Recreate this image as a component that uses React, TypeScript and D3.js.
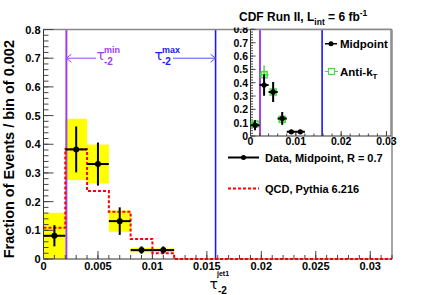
import React from 'react';
import * as d3 from 'd3';

// bins of 0.002 in tau_-2 (jet1)
const binEdges = [0, 0.002, 0.004, 0.006, 0.008, 0.01, 0.012];
const midpoint = [0.081, 0.382, 0.331, 0.132, 0.031, 0.031];
const midStat = [0.037, 0.08, 0.075, 0.048, 0.013, 0.013];
const midSyst = [0.08, 0.107, 0.068, 0.037, 0.008, 0.006];
const qcdPythia = [0.109, 0.383, 0.237, 0.165, 0.07, 0.02];
const antiKt = [0.09, 0.46, 0.33, 0.125];
const antiKtErr = [0.03, 0.07, 0.075, 0.045];

const tauMin = 0.0021;
const tauMax = 0.0158;

const xTicks = [0, 0.005, 0.01, 0.015, 0.02, 0.025, 0.03];
const xTickLabels = ['0', '0.005', '0.01', '0.015', '0.02', '0.025', '0.03'];
const yTicks = [0, 0.1, 0.2, 0.3, 0.4, 0.5, 0.6, 0.7, 0.8];
const yTickLabels = ['0', '0.1', '0.2', '0.3', '0.4', '0.5', '0.6', '0.7', '0.8'];
const insetXTicks = [0, 0.01, 0.02, 0.03];
const insetXLabels = ['0', '0.01', '0.02', '0.03'];

const FONT = 'Liberation Sans, Arial, sans-serif';
const PURPLE = '#a040ee';
const BLUE = '#1a1aee';
const GREEN = '#44dd44';

const App: React.FC = () => {
  const x = d3.scaleLinear().domain([0, 0.032]).range([43.5, 392]);
  const y = d3.scaleLinear().domain([0, 0.8]).range([259, 29.5]);
  const xi = d3.scaleLinear().domain([0, 0.031]).range([250.5, 391]);
  const yi = d3.scaleLinear().domain([0, 0.8]).range([136, 29.4]);

  const centers = binEdges.slice(0, -1).map((e, i) => (e + binEdges[i + 1]) / 2);

  const histPts: [number, number][] = qcdPythia.map((v, i) => [binEdges[i], v]);
  histPts.push([binEdges[binEdges.length - 1], 0]);
  histPts.push([0.032, 0]);
  const step = d3
    .line<[number, number]>()
    .x((d) => x(d[0]))
    .y((d) => y(d[1]))
    .curve(d3.curveStepAfter);

  const xMinor = d3.range(0, 0.0321, 0.001);
  const yMinor = d3.range(0, 0.801, 0.02);
  const xiMinor = d3.range(0, 0.0311, 0.002);

  return (
    <svg
      width={436}
      height={295}
      style={{ position: 'absolute', left: 0, top: 0, background: '#fff' }}
      fontFamily={FONT}
    >
      <defs>
        <clipPath id="insetClip">
          <rect x={200} y={27.5} width={236} height={130} />
        </clipPath>
      </defs>

      {/* systematic bands */}
      {midpoint.map((v, i) => (
        <rect
          key={'sy' + i}
          x={x(binEdges[i])}
          width={x(binEdges[i + 1]) - x(binEdges[i])}
          y={y(v + midSyst[i])}
          height={y(Math.max(0, v - midSyst[i])) - y(v + midSyst[i])}
          fill="#ffff00"
        />
      ))}

      {/* tau range lines */}
      <line x1={x(tauMin)} x2={x(tauMin)} y1={y(0.8)} y2={y(0)} stroke={PURPLE} strokeWidth={2} />
      <line x1={x(tauMax)} x2={x(tauMax)} y1={y(0.8)} y2={y(0)} stroke={BLUE} strokeWidth={1.6} />

      {/* frame */}
      <line x1={x(0)} x2={x(0.032)} y1={y(0.8)} y2={y(0.8)} stroke="#888" strokeWidth={1.5} />
      <line x1={x(0.032)} x2={x(0.032)} y1={y(0.8)} y2={y(0)} stroke="#888" strokeWidth={1.5} />
      <line x1={x(0)} x2={x(0)} y1={y(0.8)} y2={y(0)} stroke="#333" strokeWidth={1} />
      <line x1={x(0)} x2={x(0.032)} y1={y(0)} y2={y(0)} stroke="#333" strokeWidth={1} />

      {/* ticks */}
      {xMinor.map((t, i) => (
        <line key={'xm' + i} x1={x(t)} x2={x(t)} y1={y(0)} y2={y(0) - 4} stroke="#444" />
      ))}
      {xTicks.map((t, i) => (
        <line key={'xM' + i} x1={x(t)} x2={x(t)} y1={y(0)} y2={y(0) - 8} stroke="#444" />
      ))}
      {yMinor.map((t, i) => (
        <line key={'ym' + i} x1={x(0)} x2={x(0) + 5} y1={y(t)} y2={y(t)} stroke="#444" />
      ))}
      {yTicks.map((t, i) => (
        <line key={'yM' + i} x1={x(0)} x2={x(0) + 10} y1={y(t)} y2={y(t)} stroke="#444" />
      ))}
      {xTicks.map((t, i) => (
        <text key={'xl' + i} x={x(t)} y={270} fontSize={11} fontWeight="bold" textAnchor="middle">
          {xTickLabels[i]}
        </text>
      ))}
      {yTicks.map((t, i) => (
        <text key={'yl' + i} x={40.5} y={y(t) + 4} fontSize={11} fontWeight="bold" textAnchor="end">
          {yTickLabels[i]}
        </text>
      ))}

      {/* QCD Pythia histogram */}
      <path d={step(histPts) || ''} fill="none" stroke="#ff0000" strokeWidth={2} strokeDasharray="3,2" />

      {/* data, midpoint */}
      {midpoint.map((v, i) => (
        <g key={'d' + i} stroke="#000" strokeWidth={2}>
          <line x1={x(binEdges[i])} x2={x(binEdges[i + 1])} y1={y(v)} y2={y(v)} />
          <line x1={x(centers[i])} x2={x(centers[i])} y1={y(v + midStat[i])} y2={y(v - midStat[i])} />
          <circle cx={x(centers[i])} cy={y(v)} r={3} fill="#000" stroke="none" />
        </g>
      ))}

      {/* tau min / max labels and arrows */}
      <g stroke={PURPLE} strokeWidth={1} fill="none">
        <line x1={x(tauMin)} x2={96} y1={y(0.7)} y2={y(0.7)} />
        <polyline points={`${x(tauMin) + 5},${y(0.7) - 4} ${x(tauMin)},${y(0.7)} ${x(tauMin) + 5},${y(0.7) + 4}`} />
      </g>
      <text x={96.5} y={60} fontSize={14} fill={PURPLE} fontFamily="DejaVu Sans">τ</text>
      <text x={104} y={52.5} fontSize={9} fontWeight="bold" fill={PURPLE}>min</text>
      <text x={104} y={64.5} fontSize={10} fontWeight="bold" fill={PURPLE}>-2</text>
      <g stroke="#5050ff" strokeWidth={1} fill="none">
        <line x1={173} x2={x(tauMax)} y1={y(0.7)} y2={y(0.7)} />
        <polyline points={`${x(tauMax) - 5},${y(0.7) - 4} ${x(tauMax)},${y(0.7)} ${x(tauMax) - 5},${y(0.7) + 4}`} />
      </g>
      <text x={154.5} y={60} fontSize={14} fill={BLUE} fontFamily="DejaVu Sans">τ</text>
      <text x={162} y={52.5} fontSize={9} fontWeight="bold" fill={BLUE}>max</text>
      <text x={162} y={64.5} fontSize={10} fontWeight="bold" fill={BLUE}>-2</text>

      {/* main legend */}
      <line x1={228} x2={259} y1={157.5} y2={157.5} stroke="#000" strokeWidth={2} />
      <circle cx={243.5} cy={157.5} r={2.5} fill="#000" />
      <text x={265} y={161.5} fontSize={11} fontWeight="bold">Data, Midpoint, R = 0.7</text>
      <line x1={228} x2={259} y1={188.5} y2={188.5} stroke="#ff0000" strokeWidth={2} strokeDasharray="3,2" />
      <text x={265} y={192.5} fontSize={11} fontWeight="bold">QCD, Pythia 6.216</text>

      {/* inset */}
      <g clipPath="url(#insetClip)">
        <rect x={xi(0)} y={yi(0.8)} width={xi(0.031) - xi(0)} height={yi(0) - yi(0.8)} fill="#fff" />
        <line x1={xi(tauMin)} x2={xi(tauMin)} y1={yi(0.8)} y2={yi(0)} stroke={PURPLE} strokeWidth={2} />
        <line x1={xi(tauMax)} x2={xi(tauMax)} y1={yi(0.8)} y2={yi(0)} stroke={BLUE} strokeWidth={1.6} />
        <line x1={xi(0)} x2={xi(0.031)} y1={yi(0.8)} y2={yi(0.8)} stroke="#888" strokeWidth={1.5} />
        <line x1={xi(0.031)} x2={xi(0.031)} y1={yi(0.8)} y2={yi(0)} stroke="#888" strokeWidth={1.5} />
        <line x1={xi(0)} x2={xi(0)} y1={yi(0.8)} y2={yi(0)} stroke="#333" />
        <line x1={xi(0)} x2={xi(0.031)} y1={yi(0)} y2={yi(0)} stroke="#333" />
        {xiMinor.map((t, i) => (
          <line key={'xim' + i} x1={xi(t)} x2={xi(t)} y1={yi(0)} y2={yi(0) - 2.5} stroke="#444" />
        ))}
        {insetXTicks.map((t, i) => (
          <line key={'xiM' + i} x1={xi(t)} x2={xi(t)} y1={yi(0)} y2={yi(0) - 5} stroke="#444" />
        ))}
        {yMinor.map((t, i) => (
          <line key={'yim' + i} x1={xi(0)} x2={xi(0) + 2.5} y1={yi(t)} y2={yi(t)} stroke="#444" />
        ))}
        {yTicks.map((t, i) => (
          <line key={'yiM' + i} x1={xi(0)} x2={xi(0) + 5} y1={yi(t)} y2={yi(t)} stroke="#444" />
        ))}
        {insetXTicks.map((t, i) => (
          <text key={'xil' + i} x={xi(t)} y={144.5} fontSize={10.5} fontWeight="bold" textAnchor="middle">
            {insetXLabels[i]}
          </text>
        ))}
        {yTicks.map((t, i) => (
          <text key={'yil' + i} x={248} y={yi(t) + 4} fontSize={10.5} fontWeight="bold" textAnchor="end">
            {yTickLabels[i]}
          </text>
        ))}

        {antiKt.map((v, i) => (
          <g key={'ak' + i} stroke={GREEN} strokeWidth={1.5}>
            <line x1={xi(binEdges[i])} x2={xi(binEdges[i + 1])} y1={yi(v)} y2={yi(v)} />
            <line x1={xi(centers[i])} x2={xi(centers[i])} y1={yi(v + antiKtErr[i])} y2={yi(v - antiKtErr[i])} />
            <rect x={xi(centers[i]) - 3} y={yi(v) - 3} width={6} height={6} fill="none" />
          </g>
        ))}
        {midpoint.map((v, i) => (
          <g key={'mi' + i} stroke="#000" strokeWidth={2}>
            <line x1={xi(binEdges[i])} x2={xi(binEdges[i + 1])} y1={yi(v)} y2={yi(v)} />
            <line x1={xi(centers[i])} x2={xi(centers[i])} y1={yi(v + midStat[i])} y2={yi(v - midStat[i])} />
            <circle cx={xi(centers[i])} cy={yi(v)} r={2.6} fill="#000" stroke="none" />
          </g>
        ))}

        {/* inset legend */}
        <line x1={325} x2={337} y1={43.7} y2={43.7} stroke="#000" strokeWidth={1.5} />
        <circle cx={331} cy={43.7} r={2.5} fill="#000" />
        <text x={340} y={48} fontSize={11.5} fontWeight="bold">Midpoint</text>
        <line x1={325} x2={338} y1={71.5} y2={71.5} stroke={GREEN} strokeWidth={1.2} />
        <rect x={328.5} y={68.5} width={6} height={6} fill="#fff" stroke={GREEN} strokeWidth={1.2} />
        <text x={340} y={75.5} fontSize={11.5} fontWeight="bold">
          Anti-k
          <tspan fontSize={8} dy={3}>T</tspan>
        </text>
      </g>

      {/* title */}
      <text x={239} y={20.5} fontSize={12} fontWeight="bold">
        CDF Run II, L<tspan fontSize={8.5} dy={4}>int</tspan>
        <tspan dy={-4}> = 6 fb</tspan>
        <tspan fontSize={8.5} dy={-5}>-1</tspan>
      </text>

      {/* axis titles */}
      <text
        transform="translate(14,40) rotate(-90)"
        fontSize={14.5}
        fontWeight="bold"
        textAnchor="end"
      >
        Fraction of Events / bin of 0.002
      </text>
      <text x={209.5} y={289} fontSize={14} fontFamily="DejaVu Sans">τ</text>
      <text x={217} y={276} fontSize={7} fontWeight="bold">jet1</text>
      <text x={218} y={294} fontSize={10} fontWeight="bold">-2</text>
    </svg>
  );
};

export default App;
